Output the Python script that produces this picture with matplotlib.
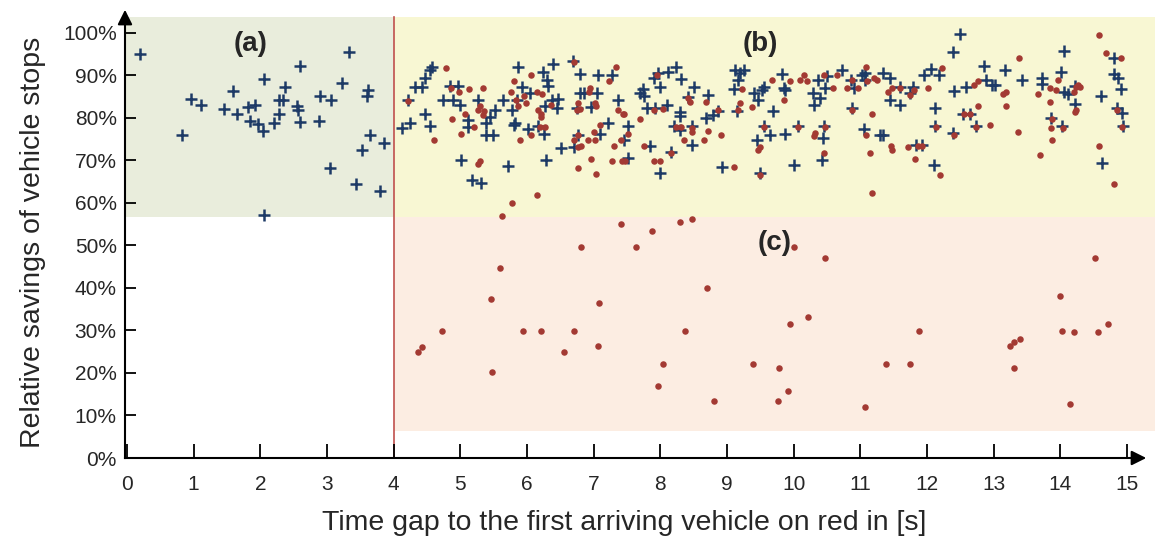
import matplotlib.pyplot as plt

# blue crosses (stops saved, all vehicles)
blue_x = [0.2, 0.82, 0.96, 1.11, 1.46, 1.59, 1.65, 1.82, 1.85, 1.92, 1.97, 2.04, 2.05, 2.05,
          2.21, 2.28, 2.28, 2.34, 2.37, 2.55, 2.56, 2.59, 2.59, 2.88, 2.9, 3.04, 3.06, 3.23,
          3.33, 3.43, 3.52, 3.61, 3.6, 3.64, 3.79, 3.85,
          4.21, 4.12, 4.24, 4.32, 4.42, 4.47, 4.55, 4.57, 4.47, 4.54, 4.74, 4.85, 4.89, 4.96,
          4.99, 5.01, 5.11, 5.12, 5.17, 5.31, 5.26, 5.39, 5.39, 5.49, 5.45, 5.52, 5.64, 5.71,
          5.77, 5.8, 5.82, 5.85, 5.87, 5.92, 6.01, 6.05, 6.17, 6.24, 6.25, 6.28, 6.3, 6.32,
          6.27, 6.39, 6.37, 6.47, 6.45, 6.51, 6.69, 6.71, 6.79, 6.8, 6.85, 6.76, 6.75, 6.96,
          7.07, 7.05, 7.09, 7.22, 7.28, 7.36, 7.52, 7.45, 7.51, 7.7,
          7.74, 7.76, 7.8, 7.84, 7.9, 7.92, 7.96, 8.0, 7.99, 8.1, 8.11, 8.24, 8.29, 8.3,
          8.31, 8.2, 8.3, 8.16, 8.47, 8.48, 8.51, 8.41, 8.69, 8.72, 8.79, 8.86, 8.92, 9.12,
          9.19, 9.25, 9.17, 9.1, 9.15, 9.4, 9.45, 9.46, 9.49, 9.52, 9.56, 9.65, 9.55, 9.69,
          9.82, 9.85, 9.87, 9.87, 10.0, 10.07, 10.29, 10.31, 10.37, 10.39, 10.44, 10.42,
          10.46, 10.47, 10.5, 10.72, 10.87, 10.86, 10.9, 11.03, 11.07, 11.06, 11.07, 11.3,
          11.34, 11.44, 11.44, 11.59, 11.6, 11.74, 11.79, 11.34, 11.84, 11.92, 11.95, 12.06,
          12.18, 12.1, 12.12, 12.12, 12.39, 12.49, 12.41, 12.39, 12.58, 12.54, 12.64, 12.74,
          12.85, 12.89, 12.97, 13.02, 13.17, 13.42, 13.72, 13.72, 13.86, 14.01, 14.05, 14.03,
          14.06, 14.12, 14.22, 14.22, 14.61, 14.63, 14.81, 14.8, 14.87, 14.91, 14.85, 14.92,
          14.94]
blue_y = [95.0, 76.0, 84.4, 83.1, 82.1, 86.4, 80.9, 82.5, 79.3, 83.1, 78.6, 77.0, 89.1, 57.2,
          78.9, 80.9, 84.2, 84.2, 87.3, 82.7, 81.9, 92.2, 79.1, 79.3, 85.2, 68.3, 84.2, 88.2,
          95.6, 64.4, 72.5, 86.6, 85.2, 76.0, 62.7, 74.0,
          84.2, 77.6, 78.7, 87.4, 87.4, 89.3, 91.3, 92.0, 80.9, 78.0, 84.2, 87.5, 84.2, 87.5,
          83.1, 70.1, 79.5, 77.8, 65.3, 64.6, 84.2, 78.7, 76.0, 76.0, 80.3, 81.9, 84.3, 68.7,
          81.9, 78.4, 78.7, 84.2, 91.9, 87.4, 77.3, 85.8, 78.0, 90.9, 76.2, 70.1, 88.9, 87.5,
          82.7, 92.7, 84.3, 84.5, 82.4, 72.9, 93.5, 73.2, 85.8, 90.4, 85.8, 76.0, 82.4, 82.6,
          90.0, 85.8, 76.2, 78.9, 90.0, 84.2, 78.0, 74.8, 70.5, 85.8,
          86.9, 85.2, 82.4, 73.4, 89.3, 82.4, 90.5, 87.4, 67.0, 83.1, 90.7, 91.9, 80.5, 81.3,
          89.1, 78.0, 77.2, 72.1, 78.0, 73.7, 87.4, 85.0, 79.9, 85.4, 80.7, 81.6, 68.5, 91.3,
          90.5, 91.3, 88.9, 86.7, 81.6, 85.8, 74.8, 84.2, 67.0, 86.6, 87.2, 76.0, 78.0, 81.6,
          90.4, 87.0, 86.6, 76.2, 68.9, 78.0, 85.9, 83.1, 88.9, 84.7, 75.4, 70.1,
          78.0, 87.0, 89.9, 91.3, 82.4, 88.9, 87.0, 90.1, 88.9, 77.3, 90.5, 76.0,
          90.5, 89.3, 84.2, 87.4, 83.1, 85.8, 87.2, 76.0, 73.7, 73.7, 90.0, 91.5,
          90.0, 68.9, 82.4, 78.0, 95.6, 99.8, 86.4, 76.4, 87.4, 80.9, 80.9, 78.0,
          92.2, 88.9, 87.8, 87.8, 91.3, 88.9, 89.3, 88.0, 79.9, 90.9, 95.8, 78.0,
          86.2, 85.6, 83.3, 87.5, 85.2, 69.3, 94.2, 90.4, 89.3, 86.7, 82.4, 81.2,
          78.0]

# red dots (stops saved, first vehicle after red)
red_x = [4.21, 4.78, 4.86, 4.98, 5.13, 5.34, 5.07, 4.88, 4.61, 5.01, 5.21, 5.27, 5.3, 5.36,
         5.34, 5.26, 5.29, 5.62, 5.77, 5.8, 5.76, 5.84, 5.86, 5.9, 5.98, 5.96, 6.06, 6.06,
         6.15, 6.23, 6.17, 6.21, 6.21, 6.19, 6.27, 6.36, 6.15, 6.71, 6.77, 6.75, 6.79, 6.94,
         6.93, 7.02, 7.04, 7.1, 7.0, 7.02, 6.92, 6.77, 6.71, 6.77, 6.81, 6.96, 6.77, 7.04,
         7.33, 7.23, 7.37, 7.44, 7.46, 7.31, 7.41, 7.52, 7.27, 7.42, 7.47, 7.41, 7.69,
         7.95, 7.9, 8.04, 7.75, 7.91, 8.0, 8.16, 8.23, 8.31, 8.35, 8.42, 8.45, 8.47, 8.47,
         8.66, 8.69, 8.71, 8.87, 8.91, 9.1, 9.19, 9.22, 9.16, 9.37, 9.56, 9.5, 9.47, 9.5,
         9.67, 9.85, 9.95, 10.1, 10.15, 10.2, 10.07, 10.32, 10.3, 10.45, 10.46, 10.47, 10.59,
         10.65, 10.8, 10.88, 10.96, 11.09, 11.1, 11.2, 11.25, 11.17, 11.09, 11.14, 11.17,
         10.88, 8.3, 8.47,
         12.02, 12.23, 12.2, 11.82, 11.72, 11.87, 11.92, 11.46, 11.47, 11.41, 11.47, 11.6,
         11.74, 11.8, 12.13, 12.41, 12.55, 12.64, 12.77, 12.74, 12.71, 12.77, 12.94, 13.14,
         13.19, 13.19, 13.36, 13.38, 13.67, 13.69, 13.84, 13.84, 13.87, 13.86, 13.87, 13.96,
         13.94, 14.04, 14.2, 14.24, 14.27, 14.29, 14.23, 14.22, 14.58, 14.69, 14.91, 14.58,
         14.85, 14.93, 14.81,
         7.87, 7.64, 6.81, 5.59, 5.46, 7.08, 8.7, 4.73, 5.94, 6.21, 6.71, 8.37, 4.36, 4.42,
         6.56, 7.06, 5.48, 8.04, 7.96, 9.39, 8.81,
         10.01, 10.47, 10.22, 9.95, 9.78, 9.91, 9.76, 11.07, 11.38, 11.74, 11.88, 13.25,
         13.3, 13.4, 13.3, 14.52, 14.0, 14.02, 14.21, 14.56, 14.72, 14.14]
red_y = [84.0, 91.7, 87.1, 86.2, 86.8, 87.1, 80.9, 79.7, 74.8, 76.2, 77.8, 81.9, 82.8, 81.7,
         80.7, 69.2, 69.8, 56.9, 59.9, 88.8, 86.2, 84.2, 82.9, 74.8, 83.6, 85.2, 90.1, 76.0,
         86.2, 85.6, 81.8, 80.9, 80.3, 77.8, 77.8, 83.0, 61.8, 93.1, 83.6, 81.9, 82.0, 87.1,
         86.2, 83.6, 82.7, 78.4, 76.8, 74.8, 74.8, 76.0, 74.8, 73.2, 73.4, 70.3, 68.3, 66.8,
         92.1, 88.8, 81.8, 80.9, 80.9, 73.4, 74.8, 76.2, 69.8, 69.8, 69.8, 55.0, 79.7,
         90.1, 81.9, 82.0, 73.4, 69.8, 69.8, 71.8, 77.8, 77.8, 74.8, 84.8, 83.8, 77.6, 76.6,
         74.8, 83.8, 77.0, 81.8, 76.0, 68.5, 83.6, 86.9, 81.8, 82.6, 77.8, 73.2, 72.5, 66.6,
         89.0, 84.3, 88.8, 89.0, 90.1, 88.8, 77.8, 76.4, 75.8, 71.8, 90.1, 77.8, 87.1,
         90.1, 87.1, 89.0, 87.1, 92.1, 88.8, 89.4, 89.0, 80.9, 76.0, 71.8, 62.4,
         81.8, 55.6, 56.2,
         87.1, 91.7, 66.6, 70.3, 73.1, 73.4, 73.4, 73.4, 72.5, 86.2, 87.1, 87.1,
         85.4, 86.6, 77.8, 76.0, 80.9, 80.9, 82.8, 77.8, 87.8, 88.8, 78.3, 85.6,
         86.2, 82.9, 76.8, 94.2, 85.6, 71.3, 87.1, 83.8, 79.7, 77.7, 74.8, 89.0,
         86.6, 77.7, 86.2, 87.2, 87.8, 87.2, 81.8, 81.5, 99.5, 95.2, 94.2, 73.4,
         81.8, 77.8, 64.4,
         53.3, 49.7, 49.7, 44.8, 37.3, 36.4, 39.9, 29.9, 29.9, 29.9, 29.9, 29.9, 25.0, 26.0,
         25.0, 26.4, 20.2, 22.1, 16.9, 22.1, 13.3,
         49.7, 47.1, 33.1, 31.5, 21.1, 15.8, 13.3, 11.9, 22.1, 22.1, 29.9, 26.4,
         27.2, 27.9, 21.1, 47.1, 38.0, 29.9, 29.6, 29.6, 31.5, 12.6]

y_ticks = list(range(0, 101, 10))
x_ticks = list(range(0, 16))

plt.rcParams['font.family'] = ['Liberation Sans', 'DejaVu Sans']
txt = '#262626'

fig = plt.figure(figsize=(11.55, 5.41), dpi=100)
ax = fig.add_axes([125 / 1155, 83 / 541, 1030 / 1155, 448 / 541])
ax.set_xlim(-0.03, 15.42)
ax.set_ylim(0, 105.4)

# shaded regions
ax.fill_between([-0.03, 4], 56.7, 103.8, color='#e9eddc', lw=0, zorder=0)
ax.fill_between([4, 15.42], 56.7, 103.8, color='#f8f7d3', lw=0, zorder=0)
ax.fill_between([4, 15.42], 6.3, 56.7, color='#fcede2', lw=0, zorder=0)
ax.plot([4, 4], [0, 103.8], color='#c0504d', lw=1.2, zorder=1)

ax.scatter(blue_x, blue_y, marker='+', s=80, linewidths=1.8, color='#1d3a66', zorder=3)
ax.scatter(red_x, red_y, marker='o', s=22, color='#a33a33', lw=0, zorder=4)

ax.text(1.85, 97.5, '(a)', fontsize=20, fontweight='bold', ha='center', va='center', color=txt)
ax.text(9.5, 97.5, '(b)', fontsize=20, fontweight='bold', ha='center', va='center', color=txt)
ax.text(9.72, 50.5, '(c)', fontsize=20, fontweight='bold', ha='center', va='center', color=txt)

for s in ['top', 'right']:
    ax.spines[s].set_visible(False)
for s in ['left', 'bottom']:
    ax.spines[s].set_linewidth(1.5)
ax.spines['left'].set_position(('data', -0.03))
ax.spines['left'].set_bounds(0, 104)
ax.spines['bottom'].set_bounds(-0.03, 15.12)

ax.set_xticks(x_ticks)
ax.set_yticks(y_ticks)
ax.set_yticklabels([f'{v}%' for v in y_ticks])
ax.tick_params(direction='in', length=8, width=1.3, labelsize=15, pad=6, labelcolor=txt)
ax.tick_params(axis='x', length=10, pad=12)

# axis arrows
ax.annotate('', xy=(15.33, 0), xytext=(15.05, 0), annotation_clip=False,
            arrowprops=dict(arrowstyle='-|>', color='black', lw=1.5, mutation_scale=22))
ax.annotate('', xy=(-0.03, 106.1), xytext=(-0.03, 103), annotation_clip=False,
            arrowprops=dict(arrowstyle='-|>', color='black', lw=1.5, mutation_scale=22))

ax.set_xlabel('Time gap to the first arriving vehicle on red in [s]', fontsize=20.5, labelpad=12, color=txt)
ax.set_ylabel('Relative savings of vehicle stops', fontsize=20.5, labelpad=12, color=txt)
ax.xaxis.label.set_x(0.485)
ax.yaxis.label.set_y(0.482)

fig.savefig('out.png', dpi=100)
